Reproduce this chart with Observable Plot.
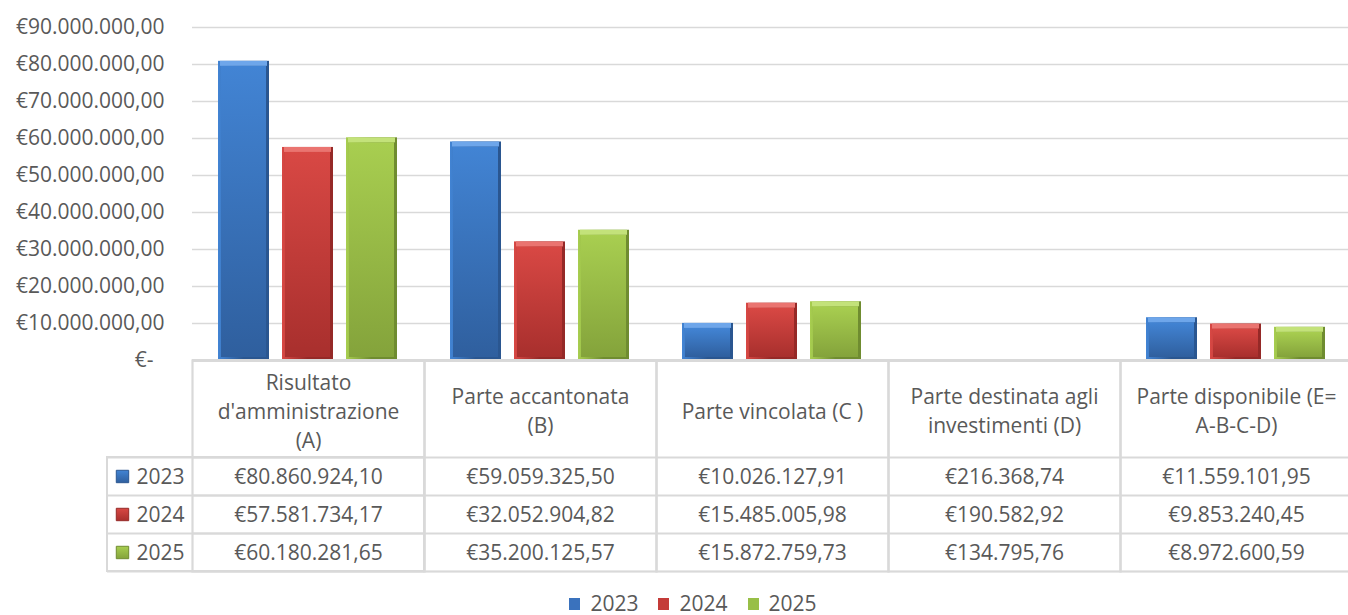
<!DOCTYPE html>
<html>
<head>
<meta charset="utf-8">
<script src="https://cdn.jsdelivr.net/npm/d3@7"></script>
<script src="https://cdn.jsdelivr.net/npm/@observablehq/plot@0.6"></script>
<style>
  html, body { margin: 0; padding: 0; background: #ffffff; overflow: hidden; }
  #chart { width: 1348px; height: 615px; position: relative; }
  .lg-swatches { justify-content: center; align-items: center; margin: 0 !important; padding-left: 58px; padding-top: 3px; min-height: 23px !important; height: 23px; line-height: 23px; }
  .lg-swatch { margin-right: 20px !important; }
  .lg-swatch > svg { margin-right: 10px !important; }
</style>
</head>
<body>
<div id="chart"></div>
<script>
// ---------- data ----------
const categories = [
  "Risultato\nd'amministrazione\n(A)",
  "Parte accantonata\n(B)",
  "Parte vincolata (C )",
  "Parte destinata agli\ninvestimenti (D)",
  "Parte disponibile (E=\nA-B-C-D)"
];
const years = ["2023", "2024", "2025"];
const values2023 = [80860924.10, 59059325.50, 10026127.91, 216368.74, 11559101.95];
const values2024 = [57581734.17, 32052904.82, 15485005.98, 190582.92, 9853240.45];
const values2025 = [60180281.65, 35200125.57, 15872759.73, 134795.76, 8972600.59];
const yTicks = [0, 10000000, 20000000, 30000000, 40000000, 50000000, 60000000, 70000000, 80000000, 90000000];

// ---------- styles ----------
const faceTop = {"2023": "#4284d4", "2024": "#d84844", "2025": "#a8ce50"};
const faceBottom = {"2023": "#2f5f9e", "2024": "#a82f2d", "2025": "#84a33b"};
const edgeColor = {"2023": "#2a5690", "2024": "#952927", "2025": "#6f8c30"};
const hiColor = {"2023": "#6ea6ea", "2024": "#ea7470", "2025": "#c3e27a"};
const legendColors = ["#3a72bd", "#c43b38", "#98bf47"];
const grey = "#d9d9d9";
const textColor = "#595959";

const valuesByYear = {"2023": values2023, "2024": values2024, "2025": values2025};
const rows = [];
years.forEach(y => categories.forEach((c, i) => rows.push({cat: c, year: y, value: valuesByYear[y][i]})));

const loc = d3.formatLocale({decimal: ",", thousands: ".", grouping: [3], currency: ["€", ""]});
const eur = loc.format("$,.2f");
const tickFmt = d => d === 0 ? "€-\u00a0\u00a0" : eur(d);

const first = categories[0];
const rowDy = [117, 155, 193];       // text centres of the data rows below the plot frame
const lineDy = [97, 135, 173, 211];  // table horizontal rules below the plot frame

const marks = [
  Plot.gridY(yTicks.slice(1), {stroke: grey, strokeOpacity: 1, strokeWidth: 1.5}),
  // bars: outer edge
  Plot.barY(rows, {fx: "cat", x: "year", y: "value", fill: d => "url(#edge-" + d.year + ")"}),
  // bars: face
  Plot.barY(rows.filter(d => d.value > 1e6), {fx: "cat", x: "year", y: "value",
    fill: d => "url(#face-" + d.year + ")", insetLeft: 3, insetRight: 3, insetTop: 5, insetBottom: 3}),
  // bars: top bevel highlight
  Plot.barY(rows.filter(d => d.value > 1e6), {fx: "cat", x: "year", y1: "value", y2: "value",
    fill: d => hiColor[d.year], insetBottom: -5, insetLeft: 2, insetRight: 2}),
  Plot.axisY(yTicks, {tickSize: 0, tickPadding: 28, tickFormat: tickFmt, fill: textColor, label: null}),
  // baseline (axis line / header top)
  Plot.ruleY([0], {stroke: grey, strokeWidth: 3.2}),
  // table frame: header top (axis line), column separators, bottom
  Plot.frame({stroke: grey, strokeWidth: 2.2, insetTop: 333, insetBottom: -211}),
  ...lineDy.slice(0, 3).map(dy => Plot.ruleY([0], {stroke: grey, strokeWidth: 2, dy})),
  ...lineDy.map(dy => Plot.ruleY([first], {fx: d => d, y: () => 0, stroke: grey, strokeWidth: 2, dy, insetLeft: -85})),
  Plot.barY([first], {fx: d => d, y1: 0, y2: 0, insetTop: 97, insetBottom: -211, insetLeft: -85,
    fill: "none", stroke: grey, strokeWidth: 2}),
  // header texts
  Plot.text(categories, {fx: d => d, text: d => d, frameAnchor: "bottom", lineAnchor: "middle",
    dy: 49, lineHeight: 1.38, fill: textColor}),
  // data cells + year labels
  ...years.map((y, i) => Plot.text(rows.filter(d => d.year === y), {fx: "cat", text: d => eur(d.value),
    frameAnchor: "bottom", lineAnchor: "middle", dy: rowDy[i], fill: textColor})),
  ...years.map((y, i) => Plot.text([y], {fx: () => first, text: d => d, frameAnchor: "bottom-left",
    lineAnchor: "middle", textAnchor: "start", dx: -56, dy: rowDy[i], fill: textColor})),
  ...years.map((y, i) => Plot.dot([y], {fx: () => first, frameAnchor: "bottom-left", symbol: "square", r: 7,
    dx: -70, dy: rowDy[i] - 1, fill: d => "url(#face-" + d + ")", stroke: d => edgeColor[d], strokeWidth: 1}))
];

const svg = Plot.plot({
  width: 1348,
  height: 589,
  marginLeft: 191,
  marginRight: -5,
  marginTop: 27,
  marginBottom: 229,
  style: {fontFamily: "'Open Sans', sans-serif", fontSize: "21px", color: textColor, background: "#ffffff"},
  fx: {domain: categories, padding: 0, axis: null},
  x: {domain: years, paddingInner: 0.2, paddingOuter: 0.39, axis: null},
  y: {domain: [0, 90000000], axis: null},
  color: {type: "identity"},
  marks
});

// gradients for the bevelled bars
const defs = d3.select(svg).insert("defs", ":first-child");
years.forEach(y => {
  const f = defs.append("linearGradient").attr("id", "face-" + y).attr("x1", 0).attr("y1", 0).attr("x2", 0).attr("y2", 1);
  f.append("stop").attr("offset", "0%").attr("stop-color", faceTop[y]);
  f.append("stop").attr("offset", "100%").attr("stop-color", faceBottom[y]);
  const e = defs.append("linearGradient").attr("id", "edge-" + y).attr("x1", 0).attr("y1", 0).attr("x2", 1).attr("y2", 0);
  e.append("stop").attr("offset", "0%").attr("stop-color", faceTop[y]);
  e.append("stop").attr("offset", "50%").attr("stop-color", edgeColor[y]);
  e.append("stop").attr("offset", "100%").attr("stop-color", edgeColor[y]);
});

const legend = Plot.legend({
  color: {type: "ordinal", domain: years, range: legendColors},
  swatchWidth: 11, swatchHeight: 12,
  className: "lg",
  style: {fontFamily: "'Open Sans', sans-serif", fontSize: "21px", color: textColor}
});

const root = document.getElementById("chart");
root.appendChild(svg);
root.appendChild(legend);
</script>
</body>
</html>
